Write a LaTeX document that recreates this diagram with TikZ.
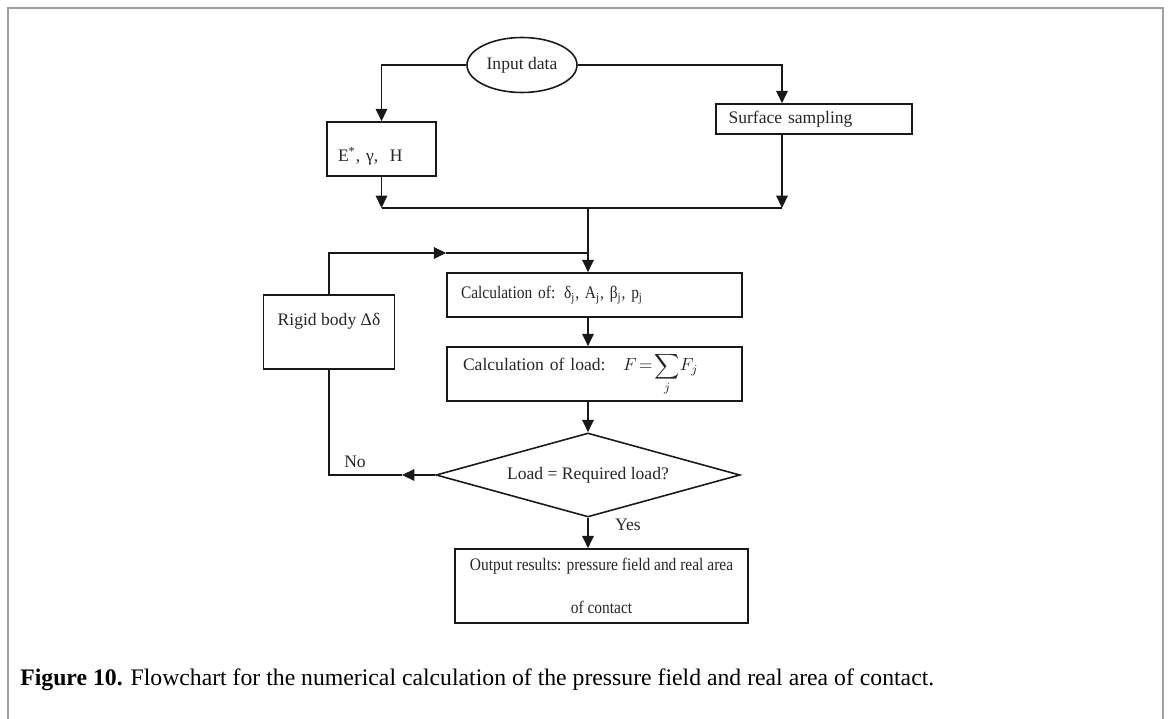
\documentclass[tikz,border=0pt]{standalone}
\usepackage{fontspec}
\setmainfont{Liberation Serif}
\newfontfamily\narrowfont[FakeStretch=0.88]{Liberation Serif}
\usetikzlibrary{arrows.meta,shapes.geometric}

\tikzset{
  flow/.style={line width=0.9pt, draw=black!90},
  arr/.style={flow, -{Triangle[length=7pt,width=6.5pt]}},
  box/.style={draw=black!90, line width=0.9pt, rectangle, inner sep=0pt,
    font=\fontsize{10}{12}\selectfont, text=black!85},
  lbl/.style={font=\fontsize{10}{12}\selectfont, text=black!85}
}

\begin{document}
\begin{tikzpicture}[x=1cm,y=1cm]
\useasboundingbox (0,0) rectangle (23.4,-14.38);
% frame
\draw[gray!75, line width=1.3pt] (0.16,-14.38) -- (0.16,-0.16) -- (23.26,-0.16) -- (23.26,-14.38);

\node[box, ellipse, minimum width=2.2cm, minimum height=1.1cm] (inp) at (10.44,-1.30) {Input data};
\node[box, minimum width=2.18cm, minimum height=1.08cm, text width=1.74cm, align=left, text height=0.5cm, text depth=0cm] (props) at (7.63,-2.98) {E\textsuperscript{*}, γ,\ \ H};
\node[box, minimum width=3.92cm, minimum height=0.6cm, text width=3.42cm, align=left] (ss) at (16.28,-2.38) {Surface sampling};

\node[box, minimum width=2.62cm, minimum height=1.48cm, text depth=0.5cm] (rb) at (6.58,-6.64) {Rigid body Δδ};
\node[box, minimum width=5.9cm, minimum height=0.88cm, text width=5.34cm, align=left] (c1) at (11.89,-5.90) {\narrowfont Calculation of: δ\textsubscript{j}, A\textsubscript{j}, β\textsubscript{j}, p\textsubscript{j}};
\node[box, minimum width=5.9cm, minimum height=1.08cm, text width=5.26cm, align=left] (c2) at (11.89,-7.48) {Calculation of load:\quad $\displaystyle F\!=\!\sum_{j}\!F_j$};
\node[box, diamond, aspect=3.6, minimum width=6.08cm, minimum height=1.68cm] (dec) at (11.76,-9.50) {Load = Required load?};
\node[box, minimum width=5.86cm, minimum height=1.48cm, align=center, font=\fontsize{10}{12}\narrowfont] (out) at (12.03,-11.72) {Output results: pressure field and real area\\[0.45cm]of contact};

\node[lbl] (no) at (7.10,-9.24) {No};
\node[lbl] (yes) at (12.56,-10.50) {Yes};

\coordinate (mergeL) at (7.63,-4.16);
\coordinate (mergeR) at (15.64,-4.16);
\coordinate (mid) at (11.76,-4.16);
\coordinate (join) at (11.76,-5.06);
\coordinate (noend) at (8.04,-9.50);

\draw[arr] (inp.west) -| (props.north);
\draw[arr] (inp.east) -| (ss.north -| mergeR);
\draw[arr] (props.south) -- (mergeL);
\draw[arr] (ss.south -| mergeR) -- (mergeR);
\draw[flow] (mergeL) -- (mergeR);
\draw[flow] (mid) -- (join);
\draw[arr] (join) -- (c1.north -| join);
\draw[arr] (rb.north) |- (c1.west |- join);
\draw[flow] (c1.west |- join) -- (join);
\draw[arr] (c1.south -| join) -- (c2.north -| join);
\draw[arr] (c2.south -| join) -- (dec.north);
\draw[arr] (dec.west) -- (noend);
\draw[flow] (noend) -| (rb.south);
\draw[arr] (dec.south) -- (out.north -| dec.south);

\node[anchor=west, inner sep=0pt, font=\fontsize{13.5}{16}\selectfont] (cap) at (0.40,-13.60) {\textbf{Figure 10.} Flowchart for the numerical calculation of the pressure field and real area of contact.};
\end{tikzpicture}
\end{document}
